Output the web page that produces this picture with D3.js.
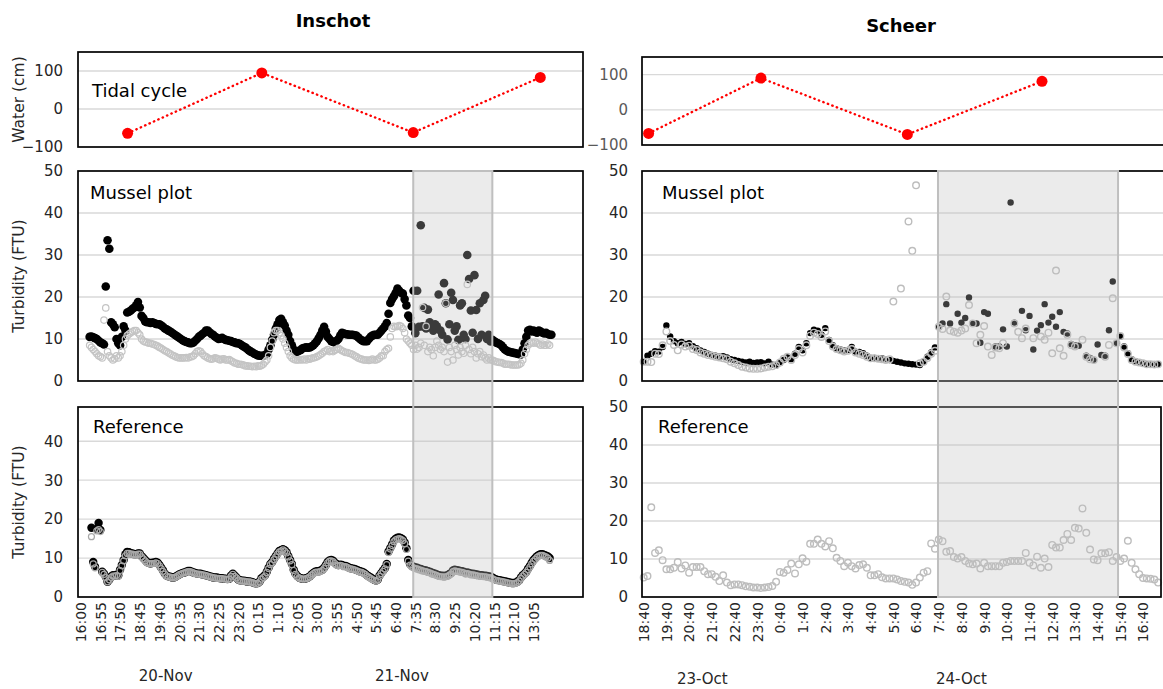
<!DOCTYPE html>
<html>
<head>
<meta charset="utf-8">
<script src="https://cdn.jsdelivr.net/npm/d3@7"></script>
<style>
  body { margin: 0; background: #fff; overflow: hidden; }
  text { font-family: "DejaVu Sans", Verdana, sans-serif; }
</style>
</head>
<body>
<svg id="chart" width="1163" height="689"></svg>
<script>
// ---------------- data ----------------
const siteNames = ["Inschot", "Scheer"];
const panelLabels = ["Tidal cycle", "Mussel plot", "Reference"];

// Inschot: 5-minute records starting 20-Nov 16:00
const inschotStart = "20-Nov 16:00";
const inschotStep = 5;
const inschotMusselOn = [null,null,null,null,null,
 10.5,10.6,10.4,10.2,10.0,9.6,9.2,9.0,8.7,22.5,33.5,31.5,14.0,13.5,12.8,10.0,9.0,8.5,10.5,13.0,12.0,16.3,16.5,16.8,17.2,
 17.5,18.0,18.8,17.5,15.5,15.0,14.2,14.0,14.0,13.8,14.0,13.8,13.6,13.5,13.5,13.2,12.9,12.5,12.3,12.0,11.8,11.5,11.2,10.9,10.6,
 10.3,10.0,9.7,9.5,9.3,9.2,9.0,9.0,9.2,9.6,10.0,10.5,10.8,11.2,11.5,12.0,12.0,11.6,11.2,11.0,10.6,10.3,10.0,10.1,10.3,
 10.0,9.8,9.7,9.6,9.5,9.3,9.2,9.0,9.0,8.8,8.5,8.2,8.0,7.6,7.3,7.0,6.8,6.5,6.3,6.1,6.0,6.0,6.0,6.2,6.5,
 7.5,8.5,9.8,11.0,12.5,13.5,14.5,14.8,14.0,13.2,12.0,11.0,9.5,8.5,7.5,7.0,7.0,7.2,7.4,7.8,7.9,8.0,7.9,8.0,8.2,
 8.5,9.0,9.5,10.2,11.0,12.0,12.9,11.8,10.5,10.0,9.5,9.3,9.2,9.6,10.0,10.8,11.5,11.3,11.2,11.1,11.0,11.0,11.0,10.9,10.8,
 10.4,10.0,9.7,9.5,9.5,9.5,10.0,10.5,10.8,11.0,11.0,11.0,11.5,12.0,12.5,13.0,13.8,16.0,18.6,19.5,20.2,21.0,22.0,21.5,21.0,
 20.8,19.5,18.0,15.6,15.0,13.0,21.5,11.4,21.5,12.9,37.1,13.0,17.4,12.5,17.0,14.0,13.0,12.0,13.5,13.0,20.6,12.0,11.0,23.3,18.5,
 9.9,13.5,21.0,19.3,12.0,13.0,9.8,18.0,18.5,11.0,10.0,30.0,24.3,16.8,11.5,25.2,16.9,10.0,18.5,11.0,19.3,20.3,10.0,11.0,9.4,
 9.8,9.5,9.2,9.0,8.8,8.5,8.0,7.5,7.2,7.0,6.9,6.8,6.7,6.6,6.5,6.4,6.3,7.5,9.0,10.5,12.0,12.2,11.8,12.0,11.7,
 11.5,12.0,11.8,11.5,11.3,11.5,11.2,11.0,11.0];
const inschotMusselOff = [null,null,null,null,null,
 8.5,8.0,7.5,7.0,6.5,6.0,5.8,5.5,14.5,17.4,7.0,6.0,5.5,5.0,5.3,6.0,5.5,6.0,7.0,8.5,10.0,10.8,11.2,11.5,11.8,
 12.0,12.0,11.5,11.0,10.0,9.5,9.3,9.2,9.0,9.0,8.8,8.7,8.5,8.3,8.0,7.8,7.5,7.2,7.0,6.7,6.5,6.2,6.0,5.8,5.6,
 5.5,5.5,5.5,5.5,5.6,5.5,5.7,5.8,6.0,6.5,7.0,7.2,7.0,6.5,6.0,5.8,5.5,5.3,5.2,5.3,5.5,5.4,5.2,5.0,5.2,
 5.3,5.0,5.0,5.1,4.8,4.6,4.3,4.2,4.0,4.0,3.9,3.8,3.6,3.6,3.5,3.5,3.4,3.5,3.4,3.6,3.5,3.7,4.0,4.5,5.0,
 6.0,8.0,9.5,11.5,12.0,12.0,11.5,10.8,10.0,9.0,8.0,7.0,6.0,5.5,5.2,5.0,5.0,5.0,5.1,5.0,5.2,5.0,5.3,5.2,5.4,
 5.5,5.6,5.8,6.0,6.3,6.6,7.0,7.2,7.5,7.0,7.2,7.0,7.3,7.5,7.8,7.5,7.2,7.0,6.8,6.8,6.6,6.5,6.3,6.0,5.8,
 5.5,5.3,5.2,5.0,5.0,5.0,4.9,5.0,5.2,5.0,5.0,5.2,5.5,6.0,6.0,7.0,7.5,7.8,10.5,12.5,13.0,12.9,13.0,13.2,13.0,
 12.5,11.5,10.0,9.5,9.0,8.5,7.5,8.5,7.6,8.0,9.0,17.5,8.5,13.0,7.0,8.0,7.5,6.0,8.0,9.5,8.5,7.5,8.0,7.0,18.5,
 4.5,8.0,7.0,5.0,8.5,7.5,6.2,8.0,7.0,6.6,8.5,23.0,7.5,6.5,8.0,7.0,5.5,6.5,7.0,5.8,6.2,5.5,5.0,5.5,5.0,
 5.0,4.8,4.6,4.5,4.4,4.4,4.2,4.0,4.0,4.0,3.9,3.8,3.8,3.8,3.8,3.9,4.2,5.0,6.5,7.5,8.5,9.0,9.2,9.0,9.3,
 9.0,8.8,8.5,8.8,8.5,8.5,8.8,8.5,null];
const inschotReferenceOn = [null,null,null,null,null,
 null,17.8,9.0,7.8,17.5,19.0,17.2,6.5,6.0,5.2,3.9,4.5,5.2,5.6,5.5,5.7,5.5,7.0,8.2,9.5,11.0,11.6,11.5,11.2,11.2,
 11.0,11.0,11.2,11.2,10.5,10.0,9.5,9.0,8.8,8.6,8.8,8.8,9.0,8.8,8.2,7.5,6.8,6.0,5.5,5.3,5.2,5.0,5.0,5.2,5.5,
 5.8,6.0,6.2,6.3,6.5,6.7,6.7,6.5,6.3,6.2,6.0,6.0,6.0,5.8,5.7,5.6,5.5,5.3,5.2,5.0,5.0,5.0,4.9,4.8,4.8,
 4.7,4.7,4.6,4.7,5.5,6.0,5.5,5.0,4.5,4.3,4.2,4.2,4.1,4.0,4.0,3.9,3.8,3.6,3.5,3.6,4.0,4.8,5.2,5.6,6.5,
 7.5,8.5,9.0,9.8,10.5,11.2,11.8,12.0,12.3,12.0,11.5,10.5,9.5,8.5,7.0,6.0,5.4,5.0,4.8,4.7,4.7,4.8,5.0,5.3,5.8,
 6.2,6.5,6.6,6.6,6.8,7.0,7.5,8.2,9.0,9.4,9.5,9.3,8.8,8.4,8.2,8.3,8.2,8.0,8.0,7.8,7.5,7.4,7.3,7.2,7.0,
 6.8,6.6,6.5,6.3,6.0,5.6,5.3,5.0,4.7,4.4,4.2,4.5,5.5,6.2,6.8,7.4,8.5,11.7,12.6,13.5,14.5,15.0,15.2,15.3,15.1,
 14.8,14.0,12.5,9.5,8.5,8.0,7.8,7.6,7.5,7.3,7.2,7.0,6.9,6.8,6.6,6.5,6.3,6.1,6.0,5.8,5.6,5.5,5.5,5.4,5.5,
 5.6,5.9,6.2,6.8,7.0,6.9,6.8,6.7,6.6,6.5,6.2,6.3,6.2,6.0,6.0,5.9,5.8,5.7,5.6,5.6,5.5,5.5,5.4,5.3,5.2,
 5.0,4.7,4.5,4.4,4.3,4.2,4.1,4.0,3.9,3.8,3.7,3.6,3.6,3.7,3.9,4.3,5.0,5.6,6.0,6.5,7.3,8.0,8.8,9.5,10.0,
 10.5,10.8,11.0,11.0,10.8,10.6,10.4,10.0,null];
const inschotReferenceOff = [null,null,null,null,null,
 null,15.5,8.5,7.5,17.0,17.3,16.8,6.3,5.8,5.0,3.9,4.4,5.0,5.4,5.4,5.5,5.3,6.8,8.0,9.3,10.6,11.2,11.2,11.0,11.0,
 10.8,10.8,11.0,11.0,10.3,9.8,9.3,8.8,8.6,8.5,8.6,8.6,8.8,8.6,8.0,7.3,6.6,5.9,5.4,5.2,5.1,4.9,4.9,5.1,5.4,
 5.7,5.9,6.1,6.2,6.4,6.5,6.5,6.4,6.2,6.0,5.9,5.9,5.8,5.7,5.6,5.5,5.4,5.2,5.1,4.9,4.9,4.8,4.8,4.7,4.7,
 4.6,4.6,4.5,4.6,5.3,5.8,5.3,4.9,4.4,4.2,4.1,4.1,4.0,3.9,3.9,3.8,3.7,3.5,3.4,3.5,3.9,4.6,5.0,5.4,6.3,
 7.3,8.3,8.8,9.6,10.3,11.0,11.6,11.8,12.1,11.8,11.3,10.3,9.3,8.3,6.8,5.8,5.2,4.9,4.7,4.6,4.6,4.7,4.9,5.2,5.6,
 6.0,6.3,6.4,6.4,6.6,6.8,7.3,8.0,8.8,9.2,9.3,9.1,8.6,8.2,8.0,8.1,8.0,7.8,7.8,7.6,7.3,7.2,7.1,7.0,6.8,
 6.6,6.4,6.3,6.1,5.8,5.4,5.1,4.8,4.5,4.3,4.1,4.4,5.3,6.0,6.6,7.2,8.3,11.4,12.3,13.2,14.2,14.7,14.9,15.0,14.8,
 14.5,13.7,12.2,9.2,8.2,7.7,7.5,7.3,7.2,7.0,6.9,6.7,6.6,6.5,6.3,6.2,6.0,5.8,5.7,5.5,5.3,5.2,5.2,5.1,5.2,
 5.3,5.6,5.9,6.5,6.7,6.6,6.5,6.4,6.3,6.2,5.9,6.0,5.9,5.7,5.7,5.6,5.5,5.4,5.3,5.3,5.2,5.2,5.1,5.0,4.9,
 4.7,4.5,4.3,4.2,4.1,4.0,3.9,3.8,3.7,3.6,3.5,3.4,3.4,3.5,3.7,4.1,4.8,5.4,5.8,6.3,7.0,7.7,8.5,9.2,9.7,
 10.2,10.5,10.7,10.7,10.5,10.3,10.0,9.4,null];

// Scheer: 10-minute records starting 23-Oct 18:40
const scheerStart = "23-Oct 18:40";
const scheerStep = 10;
const scheerMusselOn = [
 4.6,6.0,6.5,7.1,7.0,8.1,13.2,10.6,9.5,9.0,9.3,8.8,9.0,8.3,7.8,7.3,6.9,6.5,6.2,6.0,
 5.8,5.9,5.6,5.2,5.0,4.8,4.6,4.4,4.6,4.3,4.4,4.5,4.2,4.6,3.9,3.7,4.3,5.0,5.6,5.2,
 6.5,8.1,7.3,9.0,11.4,12.2,12.0,11.0,12.6,9.8,8.5,7.8,7.5,7.3,7.4,8.1,7.0,6.9,6.6,6.0,
 5.5,5.5,5.4,5.4,5.2,5.0,4.8,4.6,4.4,4.2,4.1,4.0,3.9,3.8,4.5,5.8,6.8,8.0,12.8,13.7,
 18.3,13.7,null,16.0,13.9,15.0,19.9,13.7,13.7,9.1,16.4,16.0,null,8.2,8.2,12.3,8.2,42.5,13.9,null,
 16.7,12.1,15.5,7.5,12.0,13.3,18.3,13.9,15.3,12.9,16.4,11.7,11.3,8.8,8.5,8.4,null,6.0,5.5,5.0,
 8.7,6.2,6.0,12.1,23.7,9.0,10.6,8.2,6.6,5.2,4.7,4.4,4.2,4.0,3.9,3.9,4.0];
const scheerMusselOff = [
 4.6,4.6,4.5,6.5,6.4,8.5,11.8,9.5,8.6,7.3,8.7,8.2,8.4,7.6,7.4,6.8,6.5,6.2,6.0,5.8,
 5.6,5.4,5.2,4.6,4.2,3.8,3.4,3.2,3.0,2.9,2.9,3.0,3.2,3.4,3.5,3.8,4.4,5.3,5.8,5.0,
 6.2,7.6,6.8,8.5,10.8,11.5,11.2,10.5,11.8,9.5,8.2,7.6,7.3,7.0,7.2,7.6,6.8,6.5,6.2,5.8,
 5.4,5.4,5.3,5.2,5.0,5.2,18.9,null,22.0,null,38.0,31.0,46.6,4.2,4.6,5.5,6.5,7.2,12.9,12.4,
 20.1,12.0,11.7,11.5,12.0,12.5,18.1,13.7,9.0,11.0,13.1,8.2,6.2,8.0,7.8,9.0,null,null,13.7,11.7,
 10.2,12.5,null,10.2,null,10.6,9.8,11.5,6.6,26.3,7.8,6.0,11.0,8.6,8.2,null,9.8,5.8,5.2,5.0,
 null,null,5.8,8.6,19.7,9.0,10.7,8.0,6.4,5.0,4.6,4.4,4.2,4.0,4.0,3.9,4.0];
const scheerReference = [
 5.1,5.5,23.6,11.6,12.3,9.7,7.3,7.3,7.7,9.2,7.5,8.3,6.4,7.9,7.9,7.9,6.8,6.0,6.0,5.3,
 4.2,5.7,3.8,3.1,3.3,3.3,3.1,2.8,2.7,2.5,2.5,2.4,2.5,2.6,2.9,4.0,6.6,6.4,7.1,8.8,
 6.2,8.6,10.2,9.3,14.0,14.0,15.1,14.0,13.3,14.7,12.8,10.3,9.5,8.1,9.0,8.1,7.5,8.4,8.6,7.7,
 5.7,5.7,6.0,5.2,4.9,4.9,4.9,4.6,4.2,4.0,3.8,3.2,3.8,5.1,6.4,6.8,14.1,12.7,15.1,14.7,
 11.9,12.1,10.5,10.1,10.5,9.5,8.8,8.6,8.8,7.5,9.0,8.1,8.1,8.1,8.1,9.0,9.2,9.5,9.5,9.5,
 9.5,11.6,9.0,8.3,10.6,7.7,10.1,7.9,13.7,13.0,13.0,15.0,16.6,15.0,18.2,18.0,23.3,16.9,12.5,9.9,
 9.7,11.5,11.5,11.8,9.5,10.5,9.5,10.1,14.8,9.0,7.3,6.0,5.0,4.9,4.8,4.6,3.8];

// Water level at high / low water
const inschotTideTimes = ["20-Nov 18:11", "21-Nov 00:26", "21-Nov 07:29", "21-Nov 13:24"];
const inschotTideLevels = [-64, 95, -62, 83];
const scheerTideTimes = ["23-Oct 18:53", "23-Oct 23:50", "24-Oct 06:17", "24-Oct 12:13"];
const scheerTideLevels = [-67, 90, -70, 81];

// Shaded emersion windows
const inschotWindow = ["21-Nov 07:29", "21-Nov 11:10"];
const scheerWindow = ["24-Oct 07:38", "24-Oct 15:34"];

// Axis labels
const inschotTimeTicks = ["16:00","16:55","17:50","18:45","19:40","20:35","21:30","22:25","23:20","0:15","1:10","2:05",
  "3:00","3:55","4:50","5:45","6:40","7:35","8:30","9:25","10:20","11:15","12:10","13:05"];
const scheerTimeTicks = ["18:40","19:40","20:40","21:40","22:40","23:40","0:40","1:40","2:40","3:40","4:40","5:40",
  "6:40","7:40","8:40","9:40","10:40","11:40","12:40","13:40","14:40","15:40","16:40"];
const inschotDays = ["20-Nov", "21-Nov"];
const scheerDays = ["23-Oct", "24-Oct"];
const waterTicks = [-100, 0, 100];
const turbidityTicks = [0, 10, 20, 30, 40, 50];
const waterTitle = "Water (cm)";
const turbidityTitle = "Turbidity (FTU)";

// ---------------- helpers ----------------
const parseT = d3.utcParse("%d-%b %H:%M");
const fmtDay = d3.utcFormat("%d-%b");

function buildSeries(start, stepMin, values) {
  const t0 = parseT(start).getTime();
  return values.map((v, k) => ({ t: new Date(t0 + k * stepMin * 60000), v }))
               .filter(d => d.v != null);
}
function tickDates(startDay, labels) {
  let day = parseT(startDay + " 00:00").getTime();
  let prev = -1;
  return labels.map(l => {
    const [h, m] = l.split(":").map(Number);
    const mins = h * 60 + m;
    if (mins < prev) day += 86400000;
    prev = mins;
    return new Date(day + mins * 60000);
  });
}

const svg = d3.select("#chart");
const FONT_TICK = 15;
const TICK_COLOR = "#262626";

function gridAndTicks(g, x0, x1, y, gridVals, labelVals, labelX, color) {
  g.append("g").selectAll("line").data(gridVals).join("line")
    .attr("x1", x0).attr("x2", x1)
    .attr("y1", d => y(d)).attr("y2", d => y(d))
    .attr("stroke", "#d9d9d9").attr("stroke-width", 1.3);
  const ax = g.append("g").attr("transform", `translate(${labelX},0)`)
    .call(d3.axisLeft(y).tickValues(labelVals).tickSize(0).tickPadding(0).tickFormat(d3.format("d")));
  ax.select(".domain").remove();
  ax.selectAll("text").attr("font-size", FONT_TICK).attr("fill", color)
    .attr("font-family", "DejaVu Sans, Verdana, sans-serif");
}
function border(g, x0, x1, yTop, yBot) {
  g.append("rect").attr("x", x0).attr("y", yTop).attr("width", x1 - x0).attr("height", yBot - yTop)
    .attr("fill", "none").attr("stroke", "#000").attr("stroke-width", 1.7);
}
function filledDots(g, data, x, y, r, color) {
  g.append("g").selectAll("circle").data(data).join("circle")
    .attr("cx", d => x(d.t)).attr("cy", d => y(d.v)).attr("r", r).attr("fill", color);
}
function ringDots(g, data, x, y, r, color, sw) {
  g.append("g").selectAll("circle").data(data).join("circle")
    .attr("cx", d => x(d.t)).attr("cy", d => y(d.v)).attr("r", r)
    .attr("fill", "none").attr("stroke", color).attr("stroke-width", sw);
}
function panelText(g, x, y, txt) {
  g.append("text").attr("x", x).attr("y", y).attr("font-size", 18).attr("fill", "#000").text(txt);
}

// ---------------- layout ----------------
const colL = { x0: 78, x1: 583, tickX: 63 };
const colR = { x0: 642, x1: 1167, refX1: 1161, tickX: 628 };
const rowTideL = [52, 147], rowTideR = [57, 145];
const rowMussel = [171, 381];
const rowRef = [407, 597];

// ---------------- scales ----------------
const xL = d3.scaleUtc().domain([parseT("20-Nov 16:00"), parseT("21-Nov 13:05")]).range([80.7, 533.5]);
const xR = d3.scaleUtc().domain([parseT("23-Oct 18:40"), parseT("24-Oct 16:40")]).range([643.7, 1143]);

const yTideL = d3.scaleLinear().domain([-100, 150]).range([rowTideL[1], rowTideL[0]]);
const yTideR = d3.scaleLinear().domain([-100, 150]).range([rowTideR[1], rowTideR[0]]);
const yMussel = d3.scaleLinear().domain([0, 50]).range([rowMussel[1], rowMussel[0]]);
const yRefL = d3.scaleLinear().domain([0, 48.8]).range([rowRef[1], rowRef[0]]);
const yRefR = d3.scaleLinear().domain([0, 50]).range([rowRef[1], rowRef[0]]);

// ---------------- titles ----------------
svg.append("text").attr("x", 333).attr("y", 27).attr("text-anchor", "middle")
  .attr("font-size", 18).attr("font-weight", "bold").text(siteNames[0]);
svg.append("text").attr("x", 901).attr("y", 32).attr("text-anchor", "middle")
  .attr("font-size", 18).attr("font-weight", "bold").text(siteNames[1]);

function yTitle(cy, txt) {
  svg.append("text").attr("transform", `translate(19,${cy}) rotate(-90)`)
    .attr("text-anchor", "middle").attr("dominant-baseline", "central")
    .attr("font-size", 15.5).attr("fill", "#262626").text(txt);
}
yTitle((rowTideL[0] + rowTideL[1]) / 2, waterTitle);
yTitle((rowMussel[0] + rowMussel[1]) / 2, turbidityTitle);
yTitle((rowRef[0] + rowRef[1]) / 2, turbidityTitle);

// ---------------- tide panels ----------------
function tidePanel(col, row, x, y, times, levels, tickColor) {
  const g = svg.append("g");
  gridAndTicks(g, col.x0, col.x1, y, [0, 100], waterTicks, col.tickX, tickColor);
  const pts = times.map((t, i) => ({ t: parseT(t), v: levels[i] }));
  g.append("path").datum(pts)
    .attr("d", d3.line().x(d => x(d.t)).y(d => y(d.v)))
    .attr("fill", "none").attr("stroke", "#ff0000").attr("stroke-width", 2.4)
    .attr("stroke-linecap", "round").attr("stroke-dasharray", "0.4,4.4");
  filledDots(g, pts, x, y, 5.5, "#ff0000");
  border(g, col.x0, col.x1, row[0], row[1]);
  return g;
}
const gTL = tidePanel(colL, rowTideL, xL, yTideL, inschotTideTimes, inschotTideLevels, TICK_COLOR);
panelText(gTL, 92, 97, panelLabels[0]);
tidePanel(colR, rowTideR, xR, yTideR, scheerTideTimes, scheerTideLevels, "#595959");

// ---------------- Inschot turbidity ----------------
const gML = svg.append("g");
gridAndTicks(gML, colL.x0, colL.x1, yMussel, [10, 20, 30, 40], turbidityTicks, colL.tickX, TICK_COLOR);
filledDots(gML, buildSeries(inschotStart, inschotStep, inschotMusselOn), xL, yMussel, 4.3, "#000");
ringDots(gML, buildSeries(inschotStart, inschotStep, inschotMusselOff), xL, yMussel, 3.2, "#c4c4c4", 1.2);
border(gML, colL.x0, colL.x1, rowMussel[0], rowMussel[1]);
panelText(gML, 90, 199, panelLabels[1]);

const gRL = svg.append("g");
gridAndTicks(gRL, colL.x0, colL.x1, yRefL, [10, 20, 30, 40], [0, 10, 20, 30, 40], colL.tickX, TICK_COLOR);
filledDots(gRL, buildSeries(inschotStart, inschotStep, inschotReferenceOn), xL, yRefL, 4.2, "#000");
ringDots(gRL, buildSeries(inschotStart, inschotStep, inschotReferenceOff), xL, yRefL, 3.0, "#a8a8a8", 1.2);
border(gRL, colL.x0, colL.x1, rowRef[0], rowRef[1]);
panelText(gRL, 93, 433, panelLabels[2]);

// ---------------- Scheer turbidity ----------------
const gMR = svg.append("g");
gridAndTicks(gMR, colR.x0, colR.x1, yMussel, [10, 20, 30, 40], turbidityTicks, colR.tickX, TICK_COLOR);
filledDots(gMR, buildSeries(scheerStart, scheerStep, scheerMusselOn), xR, yMussel, 3.2, "#000");
ringDots(gMR, buildSeries(scheerStart, scheerStep, scheerMusselOff), xR, yMussel, 3.3, "#bdbdbd", 1.4);
border(gMR, colR.x0, colR.x1, rowMussel[0], rowMussel[1]);
panelText(gMR, 662, 199, panelLabels[1]);

const gRR = svg.append("g");
gridAndTicks(gRR, colR.x0, colR.refX1, yRefR, [10, 20, 30, 40], turbidityTicks, colR.tickX, TICK_COLOR);
ringDots(gRR, buildSeries(scheerStart, scheerStep, scheerReference), xR, yRefR, 3.3, "#bdbdbd", 1.4);
border(gRR, colR.x0, colR.refX1, rowRef[0], rowRef[1]);
panelText(gRR, 658, 433, panelLabels[2]);

// ---------------- shaded windows (translucent, over the markers) ----------------
function shade(x, win) {
  const a = x(parseT(win[0])), b = x(parseT(win[1]));
  svg.append("rect").attr("x", a).attr("y", rowMussel[0]).attr("width", b - a)
    .attr("height", rowRef[1] - rowMussel[0])
    .attr("fill", "rgb(190,190,190)").attr("fill-opacity", 0.31)
    .attr("stroke", "#bfbfbf").attr("stroke-width", 2);
}
shade(xL, inschotWindow);
shade(xR, scheerWindow);

// ---------------- time axes ----------------
function timeAxis(x, startDay, labels, days, dataSeries, dayY) {
  const dates = tickDates(startDay, labels);
  const lab = new Map(dates.map((d, i) => [+d, labels[i]]));
  const ax = svg.append("g").attr("transform", `translate(0,${rowRef[1] + 5})`)
    .call(d3.axisBottom(x).tickValues(dates).tickSize(0).tickPadding(0).tickFormat(d => lab.get(+d)));
  ax.select(".domain").remove();
  ax.selectAll("text")
    .attr("font-size", 14).attr("fill", TICK_COLOR)
    .attr("font-family", "DejaVu Sans, Verdana, sans-serif")
    .attr("transform", "rotate(-90)").attr("text-anchor", "end")
    .attr("x", 0).attr("y", 0).attr("dy", "0.35em");
  // day labels centred under each day's records
  const byDay = d3.group(dataSeries, d => fmtDay(d.t));
  days.forEach(dname => {
    const recs = byDay.get(dname);
    const ext = d3.extent(recs, d => d.t);
    const cx = (x(ext[0]) + x(ext[1])) / 2;
    svg.append("text").attr("x", cx).attr("y", dayY).attr("text-anchor", "middle")
      .attr("font-size", 15).attr("fill", TICK_COLOR).text(dname);
  });
}
timeAxis(xL, "20-Nov", inschotTimeTicks, inschotDays,
  d3.utcMinute.every(inschotStep).range(parseT(inschotStart),
    new Date(parseT(inschotStart).getTime() + inschotMusselOn.length * inschotStep * 60000)).map(t => ({ t })), 681);
timeAxis(xR, "23-Oct", scheerTimeTicks, scheerDays,
  d3.utcMinute.every(scheerStep).range(parseT(scheerStart),
    new Date(parseT(scheerStart).getTime() + scheerReference.length * scheerStep * 60000)).map(t => ({ t })), 684);
</script>
</body>
</html>
